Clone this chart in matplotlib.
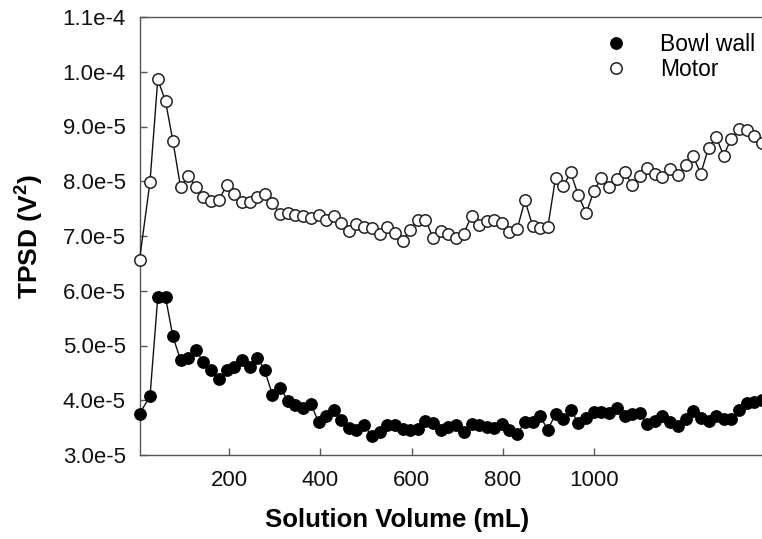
import matplotlib
matplotlib.use("Agg")
import matplotlib.pyplot as plt
from matplotlib.lines import Line2D
from matplotlib.ticker import FuncFormatter, MultipleLocator

plt.rcParams["font.family"] = ["Liberation Sans", "DejaVu Sans"]
plt.rcParams["mathtext.fontset"] = "custom"
plt.rcParams["mathtext.rm"] = "Liberation Sans"
plt.rcParams["mathtext.bf"] = "Liberation Sans:bold"

# Solution volume (mL) at each measurement
volume = [4, 27, 44, 61, 77, 94, 111, 128, 144, 161, 178, 195, 211, 228, 245, 262,
          278, 295, 312, 329, 345, 362, 379, 396, 412, 429, 446, 463, 479, 496, 513,
          530, 546, 563, 580, 597, 613, 630, 647, 664, 680, 697, 714, 731, 747, 764,
          781, 798, 814, 831, 848, 865, 881, 898, 915, 932, 948, 965, 982, 999, 1015,
          1032, 1049, 1066, 1082, 1099, 1116, 1133, 1149, 1166, 1183, 1200, 1216, 1233,
          1250, 1267, 1283, 1300, 1317, 1334, 1350, 1367]

# TPSD in units of 1e-5 V^2
bowl_wall = [3.755, 4.07, 5.88, 5.88, 5.17, 4.73, 4.78, 4.91, 4.69, 4.56,
             4.38, 4.56, 4.61, 4.73, 4.61, 4.78, 4.55, 4.10, 4.23, 3.99,
             3.92, 3.86, 3.94, 3.60, 3.71, 3.83, 3.64, 3.49, 3.45, 3.55,
             3.34, 3.42, 3.55, 3.55, 3.47, 3.46, 3.47, 3.62, 3.58, 3.45,
             3.51, 3.55, 3.42, 3.56, 3.55, 3.51, 3.50, 3.57, 3.46, 3.38,
             3.60, 3.60, 3.71, 3.46, 3.75, 3.66, 3.83, 3.58, 3.68, 3.78,
             3.78, 3.77, 3.85, 3.71, 3.74, 3.77, 3.56, 3.63, 3.72, 3.60,
             3.53, 3.65, 3.80, 3.68, 3.62, 3.71, 3.66, 3.65, 3.83, 3.95,
             3.97, 4.01]

motor = [6.56, 7.99, 9.86, 9.46, 8.74, 7.89, 8.10, 7.89, 7.72, 7.64,
         7.66, 7.93, 7.76, 7.62, 7.62, 7.72, 7.76, 7.60, 7.41, 7.42,
         7.39, 7.36, 7.32, 7.39, 7.30, 7.36, 7.23, 7.10, 7.22, 7.16,
         7.14, 7.04, 7.16, 7.05, 6.91, 7.11, 7.30, 7.30, 6.96, 7.09,
         7.04, 6.96, 7.04, 7.37, 7.21, 7.28, 7.30, 7.23, 7.07, 7.13,
         7.65, 7.18, 7.14, 7.16, 8.06, 7.91, 8.16, 7.74, 7.42, 7.82,
         8.06, 7.89, 8.05, 8.17, 7.94, 8.10, 8.25, 8.14, 8.08, 8.22,
         8.11, 8.30, 8.46, 8.14, 8.61, 8.80, 8.47, 8.78, 8.96, 8.94,
         8.82, 8.70]

series_labels = ["Bowl wall", "Motor"]
x_ticks = [200, 400, 600, 800, 1000]

scale = 1e-5
bowl_vals = [v * scale for v in bowl_wall]
motor_vals = [v * scale for v in motor]

W, H = 762, 539
fig = plt.figure(figsize=(W / 100, H / 100), dpi=100)

# axes run past the right border of the canvas
left_px, right_px, top_px, bottom_px = 139.5, 800, 17, 455
ax = fig.add_axes([left_px / W, 1 - bottom_px / H,
                   (right_px - left_px) / W, (bottom_px - top_px) / H])

spine_col = "#555555"
for s in ax.spines.values():
    s.set_color(spine_col)
    s.set_linewidth(1.0)

ax.plot(volume, bowl_vals, "-", color="#111111", lw=1.0, marker="o", ms=8.2,
        mfc="black", mec="black", mew=1.0, clip_on=False, label=series_labels[0],
        zorder=3)
ax.plot(volume, motor_vals, "-", color="#111111", lw=1.0, marker="o", ms=8.2,
        mfc="white", mec="#222222", mew=1.1, clip_on=False, label=series_labels[1],
        zorder=3)

ax.set_xlim(4, 4 + (right_px - left_px) / 0.4567)
ax.set_ylim(3e-5, 1.1e-4)
ax.set_xticks(x_ticks)
ax.yaxis.set_major_locator(MultipleLocator(1e-5))


def sci_fmt(v, pos):
    s = f"{v:.1e}"
    mant, exp = s.split("e")
    return f"{mant}e{int(exp)}"


ax.yaxis.set_major_formatter(FuncFormatter(sci_fmt))
ax.tick_params(direction="in", length=5, width=1, color=spine_col,
               labelsize=16, labelcolor="#111111", pad=10)
ax.tick_params(axis="x", pad=11)

fig.text(397 / W, 1 - 520 / H, "Solution Volume (mL)", ha="center", va="center",
         fontsize=18.5, fontweight="bold")
fig.text(29 / W, 1 - 237 / H, r"TPSD (V$^{\mathbf{2}}$)", ha="center", va="center",
         rotation=90, fontsize=19, fontweight="bold")

leg_handles = [Line2D([], [], ls="none", marker="o", ms=8.2, mfc="black", mec="black"),
               Line2D([], [], ls="none", marker="o", ms=8.2, mfc="white", mec="#222222",
                      mew=1.1)]
fig.legend(leg_handles, series_labels, loc="upper left",
           bbox_to_anchor=(590 / W, 1 - 24 / H), frameon=False, fontsize=16.5,
           handletextpad=1.15, labelspacing=0.1, handlelength=1.5, borderaxespad=0)

fig.savefig("out.png", dpi=100)
